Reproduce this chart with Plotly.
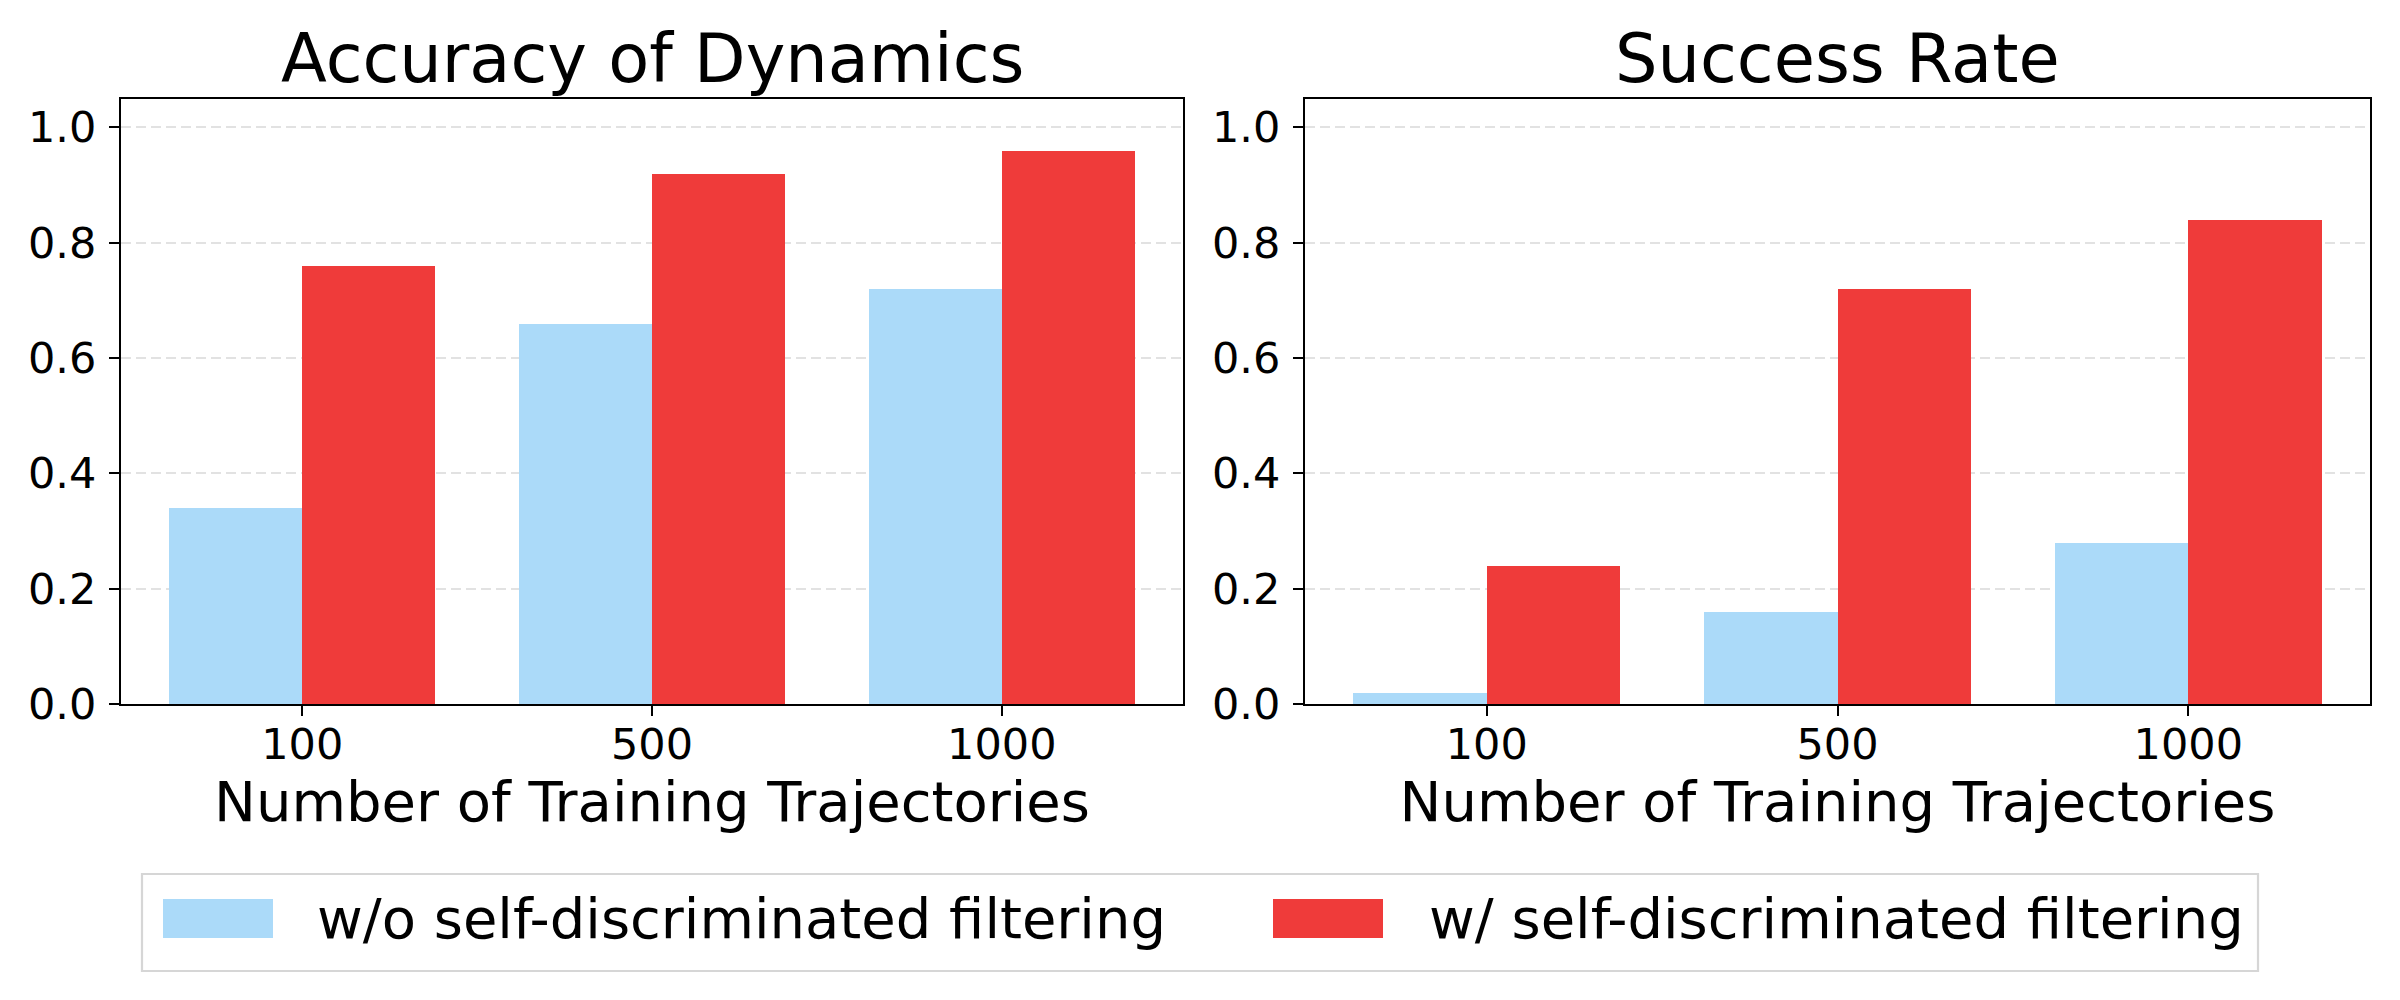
import plotly.graph_objects as go

# ---------------- data ----------------
categories = ["100", "500", "1000"]
panel_titles = ["Accuracy of Dynamics", "Success Rate"]
series_names = ["w/o self-discriminated filtering", "w/ self-discriminated filtering"]
acc_without = [0.34, 0.66, 0.72]
acc_with = [0.76, 0.92, 0.96]
succ_without = [0.02, 0.16, 0.28]
succ_with = [0.24, 0.72, 0.84]
y_ticks = [0.0, 0.2, 0.4, 0.6, 0.8, 1.0]
x_label = "Number of Training Trajectories"

# ---------------- style ----------------
W, H = 2400, 1000
BLUE = "#ABDAF9"
RED = "#EF3B3A"
FONT = "DejaVu Sans"
BAR_W = 0.38

def px_x(v):
    return v / W

def px_y(v):
    return 1 - v / H

pos = list(range(len(categories)))
fig = go.Figure()

panels = [(acc_without, acc_with), (succ_without, succ_with)]
for i, (wo, w) in enumerate(panels):
    xa = "x" if i == 0 else "x2"
    ya = "y" if i == 0 else "y2"
    fig.add_trace(go.Bar(x=pos, y=wo, width=BAR_W, offset=-BAR_W, marker_color=BLUE,
                         marker_line_width=0, name=series_names[0], xaxis=xa, yaxis=ya,
                         showlegend=False))
    fig.add_trace(go.Bar(x=pos, y=w, width=BAR_W, offset=0, marker_color=RED,
                         marker_line_width=0, name=series_names[1], xaxis=xa, yaxis=ya,
                         showlegend=False))

y_dom = [px_y(704), px_y(98.5)]
x_doms = [[px_x(121), px_x(1183)], [px_x(1305), px_x(2370)]]

axis_common = dict(
    showline=True, linecolor="black", linewidth=2.2, mirror=True,
    ticks="outside", ticklen=10, tickwidth=2, tickcolor="black",
    tickfont=dict(family=FONT, size=43, color="black"),
    zeroline=False, automargin=False,
)

layout = dict(
    width=W, height=H, margin=dict(l=0, r=0, t=0, b=0, autoexpand=False),
    paper_bgcolor="white", plot_bgcolor="white",
    barmode="overlay", bargap=0,
    font=dict(family=FONT, color="black"),
)

for i in range(2):
    sfx = "" if i == 0 else "2"
    layout["xaxis" + sfx] = dict(
        axis_common, domain=x_doms[i], anchor="y" + sfx,
        range=[-0.518, 2.518], tickmode="array", tickvals=pos, ticktext=categories,
        showgrid=False, layer="above traces", ticklabelstandoff=-9,
        title=dict(text=x_label, font=dict(family=FONT, size=56, color="black"), standoff=10),
    )
    layout["yaxis" + sfx] = dict(
        axis_common, domain=y_dom, anchor="x" + sfx,
        range=[0, 1.05], tickmode="array", tickvals=y_ticks,
        ticktext=[f"{v:.1f}" for v in y_ticks],
        showgrid=True, gridcolor="rgba(150,150,150,0.28)", gridwidth=2, griddash="10px,5px",
        layer="above traces", ticklabelstandoff=4,
    )

fig.update_layout(**layout)

# subplot titles
for i, t in enumerate(panel_titles):
    fig.add_annotation(text=t, xref="paper", yref="paper",
                       x=(x_doms[i][0] + x_doms[i][1]) / 2, y=px_y(59),
                       xanchor="center", yanchor="middle", showarrow=False,
                       font=dict(family=FONT, size=67, color="black"))

# legend (drawn as patches + text)
fig.add_shape(type="rect", xref="paper", yref="paper",
              x0=px_x(142), x1=px_x(2258), y0=px_y(971), y1=px_y(874),
              line=dict(color="#d6d6d6", width=2.2), fillcolor="white", layer="above")
legend_items = [(BLUE, 163, 315), (RED, 1273, 1427)]
for (col, px0, tx0), name in zip(legend_items, series_names):
    fig.add_shape(type="rect", xref="paper", yref="paper",
                  x0=px_x(px0), x1=px_x(px0 + 110), y0=px_y(938), y1=px_y(899),
                  line=dict(width=0), fillcolor=col, layer="above")
    fig.add_annotation(text=name, xref="paper", yref="paper",
                       x=px_x(tx0), y=px_y(918), xanchor="left", yanchor="middle",
                       showarrow=False, font=dict(family=FONT, size=56, color="black"))

fig.write_html("out.html", post_script="document.body.style.margin='0';",
               config={"displayModeBar": False})
